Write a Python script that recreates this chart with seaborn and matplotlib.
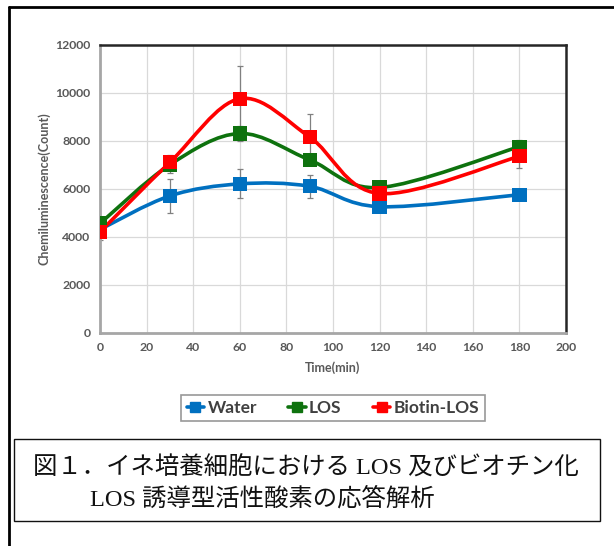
import numpy as np
import pandas as pd
import matplotlib
matplotlib.use("Agg")
import matplotlib.pyplot as plt
from matplotlib.path import Path
from matplotlib.patches import PathPatch, Rectangle
from matplotlib.lines import Line2D
import seaborn as sns

# Time points (min)
time_min = [0, 30, 60, 90, 120, 180]

# Chemiluminescence counts for each treatment
water = [4300, 5700, 6200, 6100, 5250, 5750]
los = [4550, 7000, 8300, 7200, 6050, 7750]
biotin_los = [4200, 7100, 9750, 8150, 5800, 7350]

# Standard deviations
water_err = [0, 700, 600, 480, 0, 0]
los_err = [0, 350, 300, 0, 0, 280]
biotin_los_err = [350, 300, 1350, 980, 0, 500]

series_names = ["Water", "LOS", "Biotin-LOS"]
series_colors = ["#0070C0", "#0E720E", "#FF0000"]

x_ticks = list(range(0, 201, 20))
y_ticks = list(range(0, 12001, 2000))

caption_line1 = "図１．イネ培養細胞における LOS 及びビオチン化"
caption_line2 = "LOS 誘導型活性酸素の応答解析"

rows = []
for name, vals in zip(series_names, [water, los, biotin_los]):
    for t, v in zip(time_min, vals):
        rows.append({"Time": t, "Value": v, "Series": name})
df = pd.DataFrame(rows)

sns.set_style("white")
plt.rcParams["font.family"] = ["Lato", "DejaVu Sans"]

fig = plt.figure(figsize=(6.14, 5.46), dpi=100)
ax = fig.add_axes([100 / 614, 1 - 332.7 / 546, 466 / 614, 288 / 546])


def smooth_path(xs, ys):
    """Cubic Bezier path through the points (Catmull-Rom style tangents)."""
    pts = np.column_stack([xs, ys]).astype(float)
    n = len(pts)
    verts = [pts[0]]
    codes = [Path.MOVETO]
    for i in range(n - 1):
        p0 = pts[i - 1] if i > 0 else pts[i]
        p1 = pts[i]
        p2 = pts[i + 1]
        p3 = pts[i + 2] if i + 2 < n else pts[i + 1]
        c1 = p1 + (p2 - p0) / 6.0
        c2 = p2 - (p3 - p1) / 6.0
        verts += [c1, c2, p2]
        codes += [Path.CURVE4] * 3
    return Path(verts, codes)


errs = [water_err, los_err, biotin_los_err]
for name, color, err in zip(series_names, series_colors, errs):
    sub = df[df["Series"] == name]
    ax.errorbar(sub["Time"], sub["Value"], yerr=err, fmt="none",
                ecolor="#808080", elinewidth=0.9, capsize=2.2,
                capthick=0.9, zorder=2)

for i, (name, color) in enumerate(zip(series_names, series_colors)):
    sub = df[df["Series"] == name]
    patch = PathPatch(smooth_path(sub["Time"].values, sub["Value"].values),
                      facecolor="none", edgecolor=color, lw=2.6,
                      zorder=3 + i, capstyle="round")
    ax.add_patch(patch)

sns.scatterplot(data=df, x="Time", y="Value", hue="Series",
                palette=dict(zip(series_names, series_colors)),
                marker="s", s=105, linewidth=0, ax=ax, legend=False,
                zorder=6)

ax.set_xlim(0, 200)
ax.set_ylim(0, 12000)
ax.set_xticks(x_ticks)
ax.set_yticks(y_ticks)
ax.grid(True, color="#d9d9d9", lw=0.9)
ax.set_axisbelow(True)

tick_color = "#595959"
ax.tick_params(axis="both", length=0, labelsize=8.8, colors=tick_color, pad=7)
for lab in ax.get_xticklabels() + ax.get_yticklabels():
    lab.set_fontweight("bold")

ax.set_xlabel("Time(min)", fontsize=9, fontweight="bold", color=tick_color,
              labelpad=6)
ax.set_ylabel("Chemiluminescence(Count)", fontsize=9, fontweight="bold",
              color=tick_color, labelpad=3)

for side in ["left", "bottom"]:
    ax.spines[side].set_color("#a6a6a6")
    ax.spines[side].set_linewidth(2.0)
for side in ["top", "right"]:
    ax.spines[side].set_color("#262626")
    ax.spines[side].set_linewidth(1.8)

handles = [Line2D([0], [0], color=c, lw=2.6, marker="s", markersize=7)
           for c in series_colors]
leg = fig.legend(handles, series_names, loc="center",
                 bbox_to_anchor=(333 / 614, 1 - 408 / 546), ncol=3,
                 frameon=True, fancybox=False, handlelength=1.0,
                 handletextpad=0.2, columnspacing=1.8, borderpad=0.3,
                 borderaxespad=0,
                 prop={"family": ["Lato", "DejaVu Sans"], "weight": "bold",
                       "size": 12.5})
leg.get_frame().set_edgecolor("#7f7f7f")
leg.get_frame().set_linewidth(1.2)
for t in leg.get_texts():
    t.set_color("#404040")

# Caption box
fig.add_artist(Rectangle((14 / 614, 1 - 521 / 546), 586 / 614, 82 / 546,
                         transform=fig.transFigure, facecolor="none",
                         edgecolor="#111111", lw=1.0))
cap_font = ["Liberation Serif", "Noto Sans CJK JP", "DejaVu Sans"]
fig.text(33 / 614, 1 - 468 / 546, caption_line1, family=cap_font,
         fontsize=17.6, va="center", ha="left", color="#111111")
fig.text(90 / 614, 1 - 499 / 546, caption_line2, family=cap_font,
         fontsize=17.6, va="center", ha="left", color="#111111")

# Outer frame
fig.add_artist(Line2D([9 / 614, 1.0], [1 - 7 / 546, 1 - 7 / 546],
                      transform=fig.transFigure, color="black", lw=2.0))
fig.add_artist(Line2D([9 / 614, 9 / 614], [0.0, 1 - 7 / 546],
                      transform=fig.transFigure, color="black", lw=2.0))

fig.savefig("out.png", dpi=100)
